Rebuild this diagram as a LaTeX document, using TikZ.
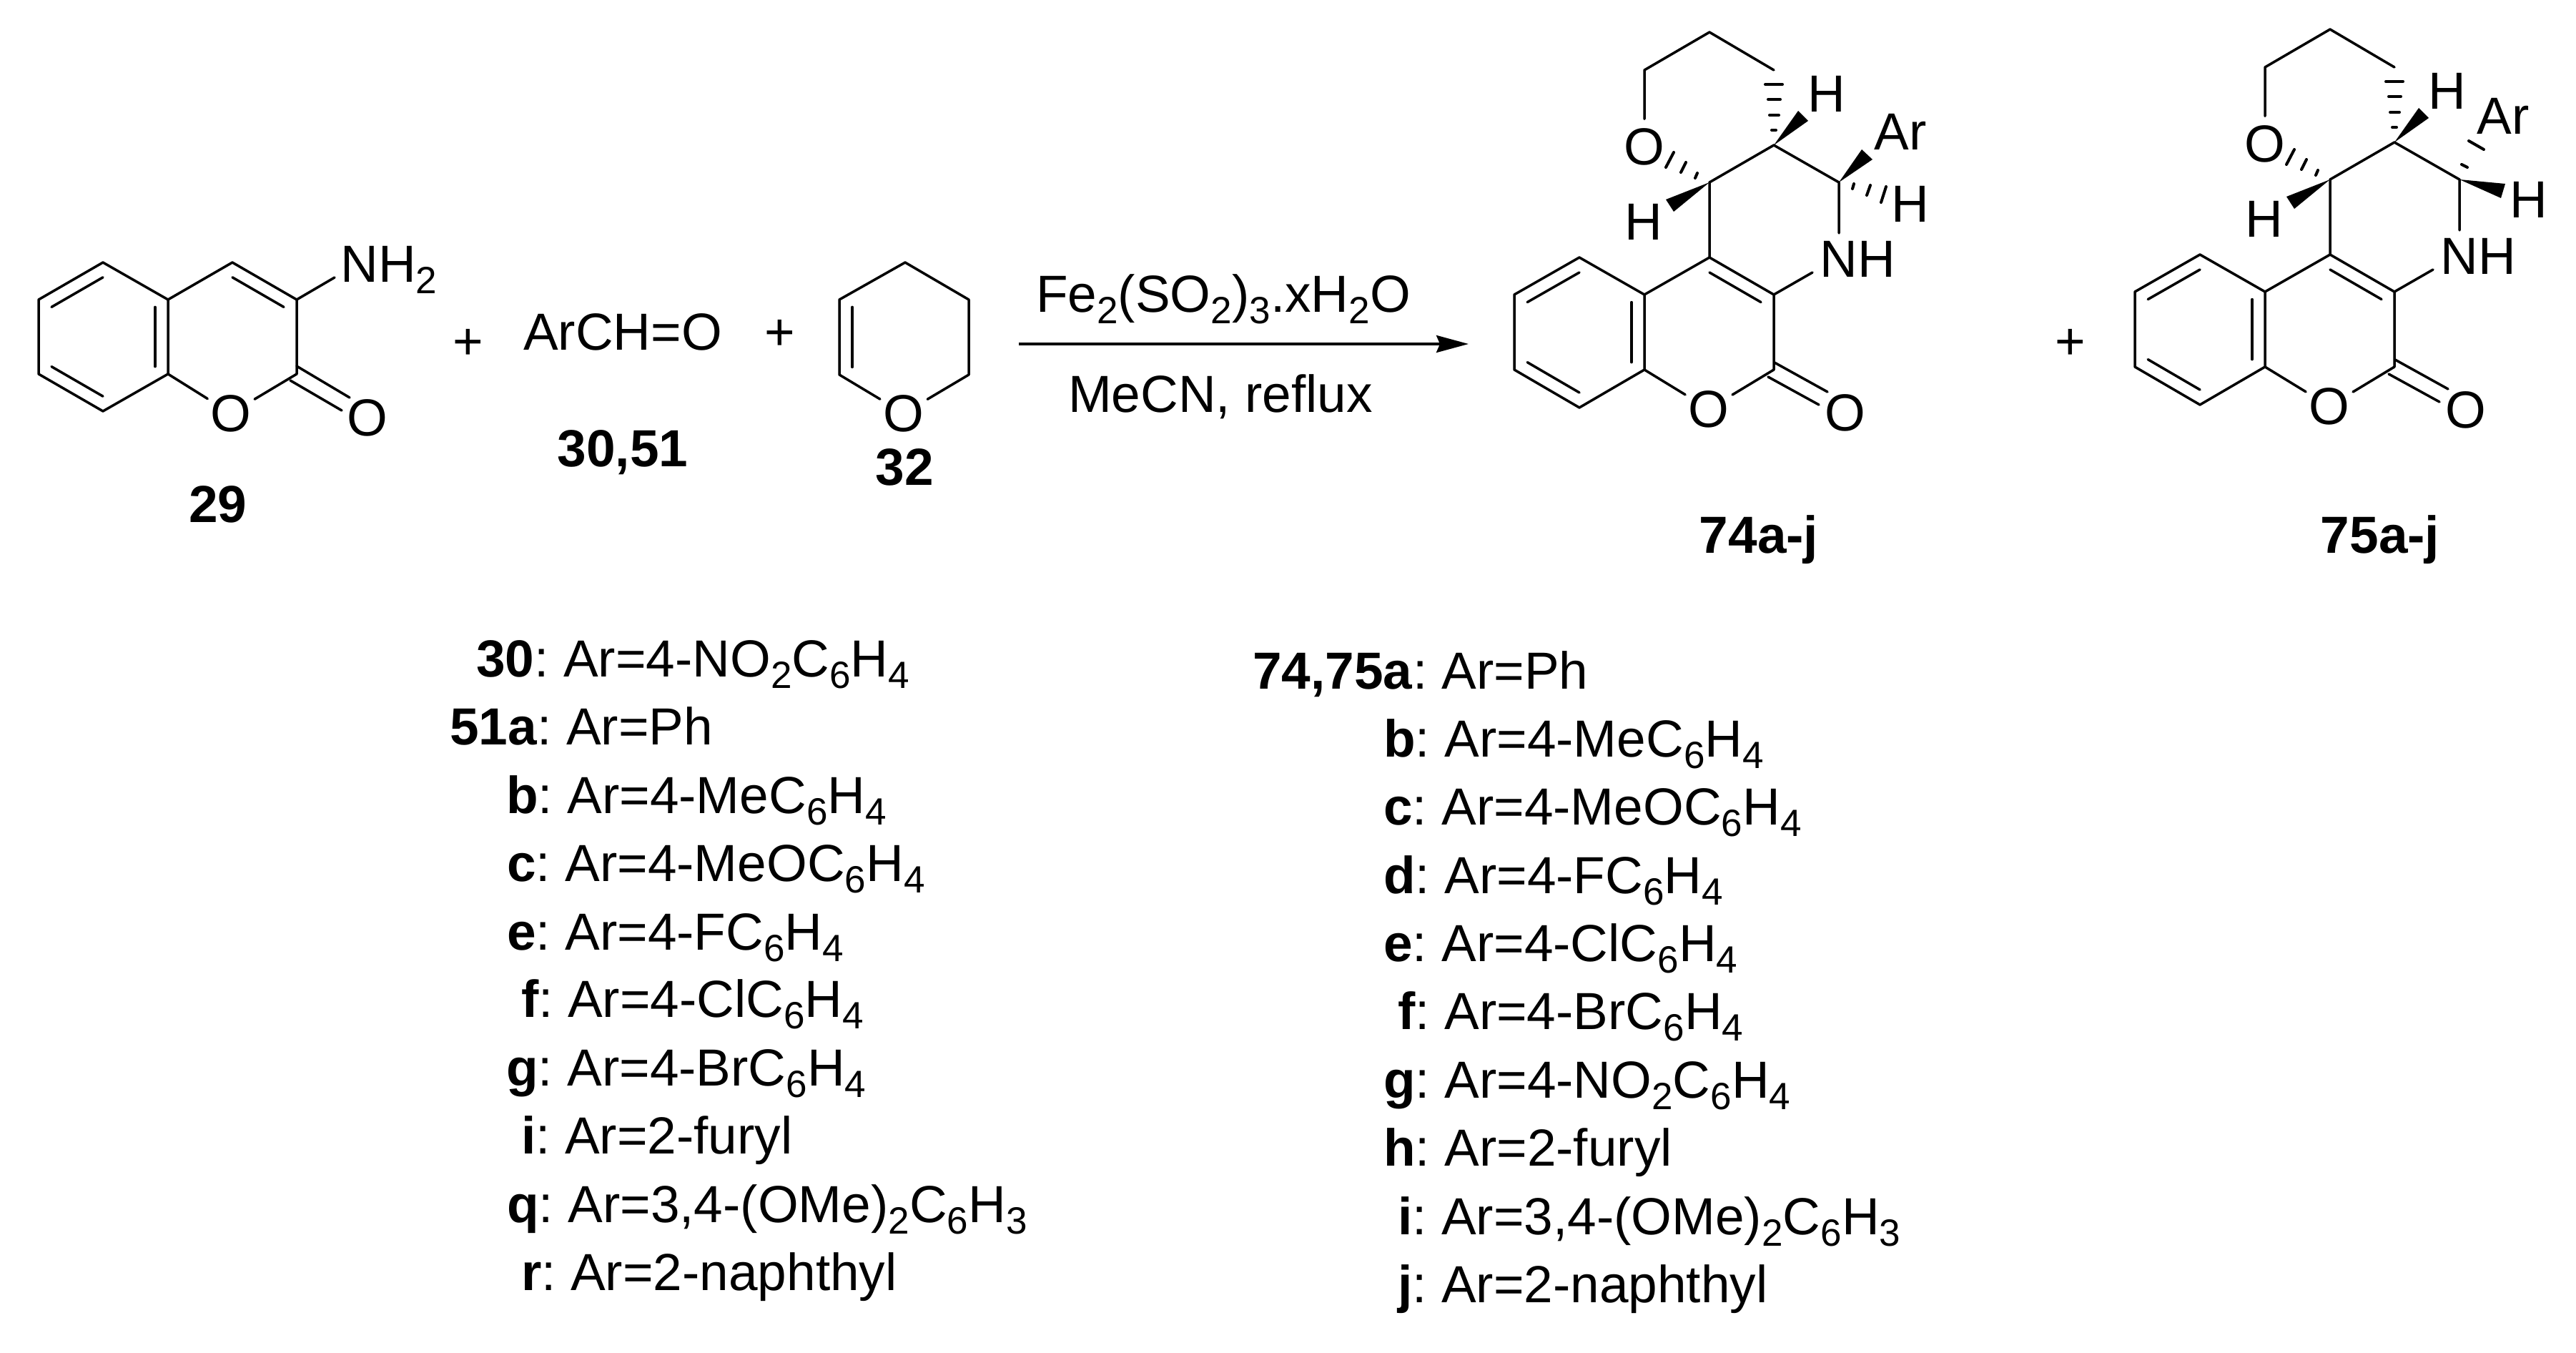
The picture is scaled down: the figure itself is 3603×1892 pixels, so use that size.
\documentclass[tikz,border=0pt]{standalone}
\usepackage{fontspec}
\setmainfont{Liberation Sans}
\usetikzlibrary{arrows.meta,calc}
\frenchspacing
\newcommand{\subs}[1]{\raisebox{-0.32cm}{\fontsize{30.2}{31}\selectfont #1}}
\tikzset{
  bond/.style={line width=0.07cm,line cap=round,line join=round},
  hashbond/.style={line width=0.08cm,line cap=round},
  wedgebond/.style={fill=black},
  atomlabel/.style={inner sep=0pt},
  oxygen/.style={circle,inner sep=0pt,minimum size=1.48cm},
  boldlabel/.style={inner sep=0pt,anchor=base,font=\fontsize{41.54}{48}\selectfont\bfseries},
  textlabel/.style={inner sep=0pt,anchor=base},
  listrow/.style={inner sep=0pt,anchor=base west},
  productcore/.pic={
    % atoms of the tetracyclic part
    \coordinate (a1) at (2118,412);
    \coordinate (a2) at (2209,360);
    \coordinate (a3) at (2300,412);
    \coordinate (a4) at (2300,517);
    \coordinate (a5) at (2209,570);
    \coordinate (a6) at (2118,517);
    \coordinate (cb) at (2209,465);
    \coordinate (cp) at (2391,465);
    \coordinate (c4) at (2391,360);
    \coordinate (c3) at (2481,412);
    \coordinate (c2) at (2481,517);
    \coordinate (u1) at (2391,255);
    \coordinate (u2) at (2481,203);
    \coordinate (car) at (2572,255);
    \coordinate (t1) at (2481,98);
    \coordinate (t2) at (2391,45);
    \coordinate (t3) at (2300,98);
    \coordinate (nhtop) at (2572,326);
    \coordinate (nhleft) at (2535,381);
    \coordinate (dbla) at (2482,507);
    \coordinate (dblb) at (2556,548);
    \coordinate (dblc) at (2473,527);
    \coordinate (dbld) at (2544,566);
    \node[oxygen] (o1) at (2390,572) {O};
    \node[oxygen] (o2) at (2581,577) {O};
    \node[oxygen] (o3) at (2300,205) {O};
    \node[atomlabel] (nh) at (2598,362) {NH};
    \node[atomlabel] (hup) at (2555,131) {H};
    \node[atomlabel] (hlow) at (2299,310) {H};
    % rings
    \draw[bond] (a1)--(a2)--(a3)--(a4)--(a5)--(a6)--cycle;
    \draw[bond] ($(a1)!.2!(cb)$)--($(a2)!.2!(cb)$);
    \draw[bond] ($(a3)!.2!(cb)$)--($(a4)!.2!(cb)$);
    \draw[bond] ($(a5)!.2!(cb)$)--($(a6)!.2!(cb)$);
    \draw[bond] (a3)--(c4)--(c3)--(c2);
    \draw[bond] ($(c4)!.2!(cp)$)--($(c3)!.2!(cp)$);
    \draw[bond] (a4)--(o1);
    \draw[bond] (c2)--(o1);
    \draw[bond] (dbla)--(dblb);
    \draw[bond] (dblc)--(dbld);
    \draw[bond] (c4)--(u1)--(u2)--(car)--(nhtop);
    \draw[bond] (c3)--(nhleft);
    \draw[bond] (t1)--(t2)--(t3)--(o3);
    % stereo bonds
    \fill[wedgebond] (u2)--(2515,155)--(2529,169)--cycle;
    \fill[wedgebond] (u1)--(2330,279)--(2341,296)--cycle;
    \draw[hashbond] (2469,118)--(2493,118);
    \draw[hashbond] (2473,139)--(2490,139);
    \draw[hashbond] (2475,161)--(2488,161);
    \draw[hashbond] (2478,182)--(2484,182);
    \draw[hashbond] (2374,242)--(2371,249);
    \draw[hashbond] (2358,227)--(2351,241);
    \draw[hashbond] (2341,213)--(2330,234);
  }
}
\begin{document}
\begin{tikzpicture}[x=0.02cm,y=-0.02cm,font=\fontsize{41.54}{48}\selectfont]
  \useasboundingbox (0,0) rectangle (3603,1892);
  % coumarin 29
  \coordinate (ca1) at (54,419);
  \coordinate (ca2) at (144,367);
  \coordinate (ca3) at (235,419);
  \coordinate (ca4) at (235,523);
  \coordinate (ca5) at (144,575);
  \coordinate (ca6) at (54,523);
  \coordinate (cam) at (144,471);
  \coordinate (cc4) at (325,367);
  \coordinate (cc3) at (415,419);
  \coordinate (cc2) at (415,523);
  \coordinate (ccm) at (325,471);
  \coordinate (nhend) at (468,388);
  \coordinate (coa) at (415,512);
  \coordinate (cob) at (489,556);
  \coordinate (coc) at (406,532);
  \coordinate (cod) at (478,574);
  \node[oxygen] (co1) at (323,578) {O};
  \node[oxygen] (co2) at (514,584) {O};
  \node[listrow] (amine) at (476,395) {NH\subs{2}};
  \draw[bond] (ca1)--(ca2)--(ca3)--(ca4)--(ca5)--(ca6)--cycle;
  \draw[bond] ($(ca1)!.2!(cam)$)--($(ca2)!.2!(cam)$);
  \draw[bond] ($(ca3)!.2!(cam)$)--($(ca4)!.2!(cam)$);
  \draw[bond] ($(ca5)!.2!(cam)$)--($(ca6)!.2!(cam)$);
  \draw[bond] (ca3)--(cc4)--(cc3)--(cc2);
  \draw[bond] ($(cc4)!.2!(ccm)$)--($(cc3)!.2!(ccm)$);
  \draw[bond] (ca4)--(co1);
  \draw[bond] (cc2)--(co1);
  \draw[bond] (coa)--(cob);
  \draw[bond] (coc)--(cod);
  \draw[bond] (cc3)--(nhend);
  \node[boldlabel] (l29) at (305,730) {29};
  \node[atomlabel] (plusa) at (655,481) {+};
  \node[textlabel] (aldehyde) at (871,489) {ArCH=O};
  \node[boldlabel] (l3051) at (871,652) {30,51};
  \node[atomlabel] (plusb) at (1091,468) {+};
  % dihydropyran 32
  \coordinate (d1) at (1266,367);
  \coordinate (d2) at (1174,419);
  \coordinate (d3) at (1174,524);
  \coordinate (d4) at (1355,524);
  \coordinate (d5) at (1355,419);
  \coordinate (dm) at (1265,471);
  \node[oxygen] (do) at (1264,578) {O};
  \draw[bond] (do)--(d3)--(d2)--(d1)--(d5)--(d4)--(do);
  \draw[bond] ($(d2)!.2!(dm)$)--($(d3)!.2!(dm)$);
  \node[boldlabel] (l32) at (1265,678) {32};
  % reaction arrow
  \coordinate (arrowa) at (1425,481);
  \coordinate (arrowb) at (2054,481);
  \draw[line width=0.07cm,-{Stealth[length=0.9cm,width=0.48cm,inset=0.1cm]}] (arrowa)--(arrowb);
  \node[textlabel] (reagent) at (1711,437) {Fe\subs{2}(SO\subs{2})\subs{3}.xH\subs{2}O};
  \node[textlabel] (solvent) at (1707,576) {MeCN, reflux};
  % product 74
  \pic (pa) at (0,0) {productcore};
  \node[atomlabel] (aar) at (2658,184) {Ar};
  \node[atomlabel] (ah) at (2672,285) {H};
  \fill[wedgebond] (pacar)--(2604,209)--(2619,223)--cycle;
  \draw[hashbond] (2593,257)--(2591,264);
  \draw[hashbond] (2616,259)--(2611,273);
  \draw[hashbond] (2638,261)--(2631,283);
  \node[boldlabel] (l74) at (2460,773) {74a-j};
  \node[atomlabel] (plusc) at (2896,481) {+};
  % product 75
  \pic (pb) at (868,-4) {productcore};
  \node[atomlabel] (bar) at (3501,162) {Ar};
  \node[atomlabel] (bh) at (3537,279) {H};
  \fill[wedgebond] (pbcar)--(3504,257)--(3498,277)--cycle;
  \draw[hashbond] (3443,230)--(3451,234);
  \draw[hashbond] (3453,197)--(3474,209);
  \node[boldlabel] (l75) at (3329,773) {75a-j};
  % left table
  \node[listrow] (la) at (666,946) {\textbf{30}: Ar=4-NO\subs{2}C\subs{6}H\subs{4}};
  \node[listrow] (lb) at (629,1041) {\textbf{51a}: Ar=Ph};
  \node[listrow] (lc) at (708,1137) {\textbf{b}: Ar=4-MeC\subs{6}H\subs{4}};
  \node[listrow] (ld) at (709,1232) {\textbf{c}: Ar=4-MeOC\subs{6}H\subs{4}};
  \node[listrow] (le) at (709,1328) {\textbf{e}: Ar=4-FC\subs{6}H\subs{4}};
  \node[listrow] (lf) at (729,1422) {\textbf{f}: Ar=4-ClC\subs{6}H\subs{4}};
  \node[listrow] (lg) at (708,1518) {\textbf{g}: Ar=4-BrC\subs{6}H\subs{4}};
  \node[listrow] (lh) at (729,1613) {\textbf{i}: Ar=2-furyl};
  \node[listrow] (li) at (709,1709) {\textbf{q}: Ar=3,4-(OMe)\subs{2}C\subs{6}H\subs{3}};
  \node[listrow] (lj) at (729,1804) {\textbf{r}: Ar=2-naphthyl};
  % right table
  \node[listrow] (ra) at (1752,963) {\textbf{74,75a}: Ar=Ph};
  \node[listrow] (rb) at (1935,1058) {\textbf{b}: Ar=4-MeC\subs{6}H\subs{4}};
  \node[listrow] (rc) at (1935,1153) {\textbf{c}: Ar=4-MeOC\subs{6}H\subs{4}};
  \node[listrow] (rd) at (1935,1249) {\textbf{d}: Ar=4-FC\subs{6}H\subs{4}};
  \node[listrow] (re) at (1935,1344) {\textbf{e}: Ar=4-ClC\subs{6}H\subs{4}};
  \node[listrow] (rf) at (1955,1439) {\textbf{f}: Ar=4-BrC\subs{6}H\subs{4}};
  \node[listrow] (rg) at (1935,1535) {\textbf{g}: Ar=4-NO\subs{2}C\subs{6}H\subs{4}};
  \node[listrow] (rh) at (1935,1630) {\textbf{h}: Ar=2-furyl};
  \node[listrow] (ri) at (1955,1726) {\textbf{i}: Ar=3,4-(OMe)\subs{2}C\subs{6}H\subs{3}};
  \node[listrow] (rj) at (1955,1821) {\textbf{j}: Ar=2-naphthyl};
\end{tikzpicture}
\end{document}
